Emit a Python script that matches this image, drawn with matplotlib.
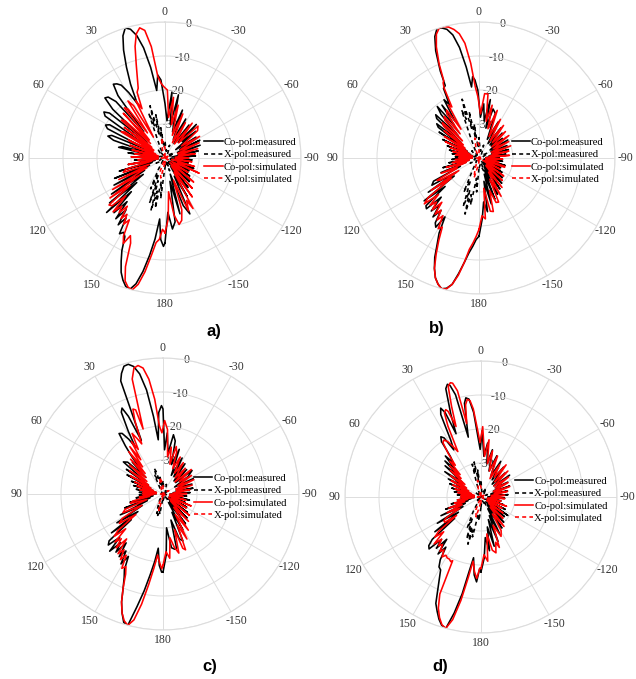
import matplotlib
matplotlib.use('Agg')
import matplotlib.pyplot as plt
import numpy as np

plt.rcParams['font.family'] = ['Liberation Serif', 'DejaVu Serif']

# angles in degrees (positive = counter-clockwise from top), gain in dB
theta_labels = ['0', '30', '60', '90', '120', '150', '180', '-150', '-120', '-90', '-60', '-30']
r_ticks = [-30, -20, -10, 0]
legend_labels = ['Co-pol:measured', 'X-pol:measured', 'Co-pol:simulated', 'X-pol:simulated']
panel_tags = ['a)', 'b)', 'c)', 'd)']

# ---------------- panel a ----------------
ang_co_meas_a = [-180, -177, -174, -171, -168, -165, -162, -159, -156, -153, -150, -146, -142, -138, -134, -130,
                 -126, -122, -118, -114, -110, -106, -102, -98, -94, -90, -86, -82, -78, -74, -70, -66, -63, -60,
                 -56, -52, -49, -46, -43, -40, -36, -32, -28, -24, -20, -16, -12, -9, -6, -3, 0, 3, 5, 7, 9, 11,
                 13, 15, 17, 19, 21, 23, 25, 27, 29, 31, 33, 35, 37, 39, 41, 43, 45, 47, 49, 51, 53, 55, 57, 59,
                 61, 63, 65, 67, 69, 71, 73, 75, 77, 79, 82, 85, 88, 91, 94, 97, 100, 103, 106, 109, 112, 115,
                 118, 121, 124, 127, 129, 131, 133, 135, 137, 139, 141, 143, 145, 147, 149, 151, 153, 155, 157,
                 159, 161, 163, 165, 167, 169, 171, 173, 175, 177, 179, 180]
db_co_meas_a = [-15, -24, -19, -21, -33, -23, -35, -25, -22, -34, -27, -37, -29, -38, -30, -37,
                -31, -38, -32, -38, -31, -37, -33, -38, -32, -37, -31, -38, -30, -36, -29, -36, -28.5, -35,
                -29, -36, -28, -33, -26.5, -34, -28, -35, -27, -34, -25, -32, -21, -30, -20.5, -29, -24, -17, -15.5, -20, -13, -7,
                -3, -0.8, 0, -2, -6, -11, -16, -22, -18, -15, -14, -13.5, -17, -30, -18, -15.5, -15, -19, -33, -19, -17.5, -18.5, -33, -21,
                -20, -21, -35, -23, -22, -24, -36, -27, -26, -36, -29, -37, -31, -38, -31, -38, -29, -37, -26, -36, -24, -35,
                -23, -33, -21, -32, -19, -29, -16.5, -26, -18, -23, -17, -21, -16, -19, -14, -15, -14, -10, -7,
                -4, -2, -0.5, 0, -2, -6, -11, -16, -22, -16, -14, -15]

ang_co_sim_a = [-180, -177, -174, -171, -168, -165, -162, -159, -156, -153, -151, -148, -145, -142, -138, -134, -130,
                -126, -122, -118, -114, -110, -106, -102, -98, -94, -90, -86, -82, -78, -74, -70, -66, -62, -58,
                -54, -50, -46, -42, -38, -34, -30, -26, -22, -18, -14, -11, -8, -5, -2, 1, 3, 5, 7, 9, 11, 13, 15,
                17, 19, 21, 23, 25, 27, 29, 31, 33, 35, 37, 39, 41, 43, 45, 47, 49, 51, 53, 55, 57, 59, 61, 64, 67,
                70, 73, 76, 79, 82, 85, 88, 91, 94, 97, 100, 103, 106, 109, 112, 115, 118, 121, 124, 126, 128, 130,
                132, 134, 136, 138, 140, 142, 144, 146, 148, 150, 152, 154, 156, 158, 160, 162, 164, 166, 168, 170,
                172, 174, 176, 178, 180]
db_co_sim_a = [-18, -22, -30, -23, -20, -21, -24, -33, -23, -26, -23, -35, -26, -37, -28, -38, -29,
               -37, -32, -38, -29, -36, -31, -38, -32, -37, -33, -37, -31, -36, -30, -36, -29, -35, -28,
               -34, -27.5, -26.5, -34, -27, -35, -28, -35, -26, -33, -24, -30, -22, -28, -20, -19, -18, -16, -7, -2, -1, -2.5, -6,
               -11, -15, -18, -19, -24, -21, -33, -22, -20, -31, -22, -21, -33, -22, -34, -24, -23, -35, -25, -36, -26, -25, -36, -28, -37,
               -29, -38, -30, -37, -31, -38, -30, -37, -32, -38, -29, -36, -28, -27, -35, -25, -34, -22, -31, -20, -27, -18.5,
               -19, -24, -18, -21, -19, -22, -18, -20, -17, -19, -14, -12, -15, -13, -6, -2, -0.5, 0, -2, -6,
               -11, -15, -16, -19, -18]

ang_x_meas_a = [-180, -170, -160, -150, -140, -120, -100, -80, -60, -40, -20, -10, 0, 5, 8, 10, 12, 14, 16, 18, 20,
                22, 25, 30, 40, 60, 80, 100, 120, 140, 150, 155, 158, 161, 163, 165, 167, 169, 171, 174, 177, 180]
db_x_meas_a = [-37, -39, -36, -39, -37, -39, -38, -39, -37, -39, -36, -38, -35, -37, -31, -36, -27, -33, -24, -30, -26,
               -34, -37, -39, -37, -39, -38, -39, -37, -39, -36, -30, -35, -26, -33, -24, -30, -25, -33, -28, -36, -37]

ang_x_sim_a = [-180, -150, -120, -90, -60, -30, 0, 10, 20, 45, 90, 135, 160, 168, 175, 180]
db_x_sim_a = [-38, -40, -39, -40, -39, -40, -37, -34, -38, -40, -39, -40, -36, -34, -38, -38]

# ---------------- panel b ----------------
ang_co_meas_b = [-180, -177, -174, -171, -168, -165, -162, -159, -156, -153, -150, -146, -142, -138, -134, -130,
                 -126, -122, -118, -114, -110, -106, -102, -98, -94, -90, -86, -82, -78, -74, -70, -66, -62, -58,
                 -54, -50, -46, -43, -40, -36, -32, -28, -24, -20, -16, -13, -11, -8, -5, -2, 1, 3, 4.5, 6, 8, 10,
                 12, 14, 16, 18, 20, 22, 24, 25, 27, 29, 31, 33, 35, 37, 39, 41, 43, 45, 47, 49, 51, 53, 55, 57,
                 60, 63, 66, 69, 72, 75, 78, 81, 84, 87, 90, 93, 96, 99, 102, 105, 108, 111, 114, 117, 120, 122,
                 124, 126, 128, 130, 132, 134, 136, 138, 140, 142, 144, 146, 148, 150, 152, 154, 156, 158, 160,
                 162, 164, 166, 168, 170, 172, 174, 176, 178, 180]
db_co_meas_b = [-17, -22, -27, -24, -33, -26, -35, -27, -36, -28, -37, -29, -38, -30, -37, -31,
                -38, -32, -38, -33, -38, -32, -37, -33, -38, -34, -38, -32, -37, -31, -36, -31, -36, -30,
                -36, -31, -35, -30, -35, -29, -35, -28, -34, -26, -25, -31, -22.5, -29, -24, -28, -20, -17, -16, -19, -13, -7,
                -3, -1, -0.2, 0, -2, -6, -12, -16.5, -17, -22, -20, -27, -21, -28, -20.5, -23, -31, -22, -23, -33, -24, -25, -34, -26,
                -36, -28, -37, -30, -38, -31, -37, -32, -38, -33, -38, -32, -37, -31, -37, -29, -36, -28, -34, -25, -24, -32,
                -22, -31, -19.5, -27, -19, -18.5, -24, -19, -22, -18, -21, -17, -16, -20, -15, -12, -8, -5, -2.5,
                -1, 0, -0.5, -2, -5.5, -9, -12, -14, -16, -17]

ang_co_sim_b = [-180, -177, -174, -171, -168, -165, -162, -159, -156, -153, -150, -146, -142, -138, -134, -130,
                -126, -122, -118, -114, -110, -108, -105, -101, -97, -93, -89, -85, -81, -77, -73, -69, -65, -61,
                -57, -53, -49, -45, -41, -37, -33, -29, -25, -21, -17, -14, -11, -8, -5, -2, 1, 3, 5, 7, 9, 11, 13,
                15, 17, 19, 21, 23, 24.5, 25.5, 26.5, 28, 30, 32, 34, 36, 38, 40, 42, 44, 46, 48, 50, 52, 55, 58,
                61, 64, 67, 70, 73, 76, 79, 82, 85, 88, 91, 94, 97, 100, 103, 106, 109, 112, 115, 118, 120, 122,
                124, 126, 128, 130, 132, 134, 136, 138, 140, 142, 144, 146, 148, 150, 152, 154, 156, 158, 160,
                162, 164, 166, 168, 170, 172, 174, 176, 178, 180]
db_co_sim_b = [-19, -23, -22, -31, -24, -23.7, -30, -26, -25.8, -33, -27, -35, -29, -37, -30.5, -37,
               -31, -38, -33, -38, -32, -32, -38, -34, -38, -33, -38, -31, -37, -31, -36, -30, -36, -30,
               -35, -29, -35, -29, -34, -28, -34, -27, -33, -25, -31, -24, -29, -21, -21, -27, -22, -19, -12, -6, -3, -1.5, -0.5,
               0, 0, -1.5, -5, -10, -15, -15.5, -17, -23, -22, -30, -23, -24, -31, -24, -25, -33, -25, -26, -34, -27, -35, -28,
               -36, -29, -37, -31, -38, -32, -38, -33, -38, -34, -38, -33, -37, -32, -37, -30, -36, -28, -33, -26, -27, -33,
               -23, -30, -21, -19, -24, -20, -22, -19.5, -23, -19, -21, -18, -20, -16, -17, -13, -9, -5, -2.5,
               -1, 0, -0.3, -2, -5, -9, -13, -15, -17, -19]

ang_x_meas_b = [-180, -170, -160, -150, -135, -120, -100, -80, -60, -40, -20, -10, 0, 5, 8, 10, 12, 14, 16, 18, 20,
                22, 25, 30, 45, 60, 80, 100, 120, 140, 152, 156, 159, 162, 164, 166, 168, 170, 173, 176, 180]
db_x_meas_b = [-37, -38, -36, -39, -37, -39, -38, -39, -37, -39, -36, -38, -34, -37, -30, -34, -26, -31, -22, -28, -25,
               -33, -37, -39, -37, -39, -38, -39, -37, -39, -36, -29, -33, -25, -30, -23, -29, -26, -34, -30, -37]

ang_x_sim_b = [-180, -150, -120, -90, -60, -30, 0, 12, 22, 45, 90, 135, 158, 166, 175, 180]
db_x_sim_b = [-39, -40, -38, -40, -39, -40, -36, -34, -38, -40, -39, -40, -37, -34, -38, -39]

# ---------------- panel c ----------------
ang_co_meas_c = [-180, -177, -174, -171, -168, -166, -163, -160, -157, -154, -151, -147, -143, -139, -135, -131,
                 -127, -123, -119, -115, -111, -107, -103, -99, -95, -91, -87, -83, -79, -75, -71, -67, -63, -59,
                 -55, -51, -48, -44, -40, -36, -32, -28, -24, -20, -16, -13, -10, -7, -4, -2, 0, 1, 3, 5, 7, 9, 11,
                 13, 15, 17, 19, 20.5, 22, 24, 25.5, 27, 29, 30.5, 32, 34, 36, 38, 40, 42, 44, 46, 48, 51, 54, 56,
                 59, 62, 65, 68, 71, 74, 77, 80, 83, 86, 89, 92, 95, 98, 101, 104, 107, 110, 113, 116, 119, 122,
                 125, 127, 129, 131, 133, 135, 137, 139, 141, 143, 145, 147, 149, 151, 153, 155, 157, 159, 161,
                 163, 165, 167, 169, 171, 173, 175, 177, 179, 180]
db_co_meas_c = [-17, -22, -30, -24, -23.4, -23.5, -32, -26, -25, -34, -28, -37, -29, -37, -30, -38,
                -31, -38, -32, -38, -33, -38, -32, -37, -33, -38, -32, -37, -31, -36, -31, -35, -30, -36,
                -31, -29, -35, -30, -35, -29, -34, -28, -34, -26, -31, -24, -22.3, -28, -22, -27, -15, -14, -16, -24, -17, -9, -4,
                -1.5, -0.5, -0.7, -2.5, -4.5, -23, -15, -12, -13, -19, -24, -21, -18.5, -18, -22, -26, -30, -27, -33, -26, -25, -33, -27,
                -35, -28, -36, -30, -37, -31, -38, -32, -38, -33, -38, -33, -37, -32, -37, -30, -36, -28, -35, -26, -33, -24,
                -31, -21, -28, -19, -18, -22, -17, -21, -18, -22, -17.5, -20, -16, -19, -15, -13, -10, -6, -3,
                -0.5, 0, -6, -11, -16, -20, -24, -19, -17, -17]

ang_co_sim_c = [-180, -177, -174, -171, -168, -165, -162, -160, -158, -155, -152, -149, -145, -141, -137, -133,
                -129, -125, -121, -117, -113, -109, -105, -101, -97, -93, -89, -85, -81, -77, -73, -69, -65, -61,
                -57, -53, -49, -45, -41, -37, -33, -29, -25, -21, -18, -15.6, -13, -10, -7, -4, -1.3, 1, 3, 5, 7,
                9, 11, 13, 15, 17, 18, 19.5, 21, 23, 25, 27, 29, 31, 33, 35, 37, 39, 41, 43, 46, 49, 52, 55, 58,
                61, 64, 67, 70, 73, 76, 79, 82, 85, 88, 91, 94, 97, 100, 103, 106, 109, 112, 115, 118, 121, 124,
                127, 129, 131, 133, 135, 137, 139, 141, 143, 145, 147, 149, 151, 153, 155, 157, 159, 161, 163,
                165, 167, 169, 171, 173, 175, 177, 179, 180]
db_co_sim_c = [-19, -23, -21, -27, -24, -22, -29, -23, -22.3, -30, -25, -33, -27, -35, -29, -37,
               -30, -38, -32, -37, -31, -38, -33, -38, -34, -38, -33, -37, -32, -36, -31, -36, -30, -35,
               -30, -34, -29, -35, -30, -34, -29, -33, -28, -32, -27, -25.5, -31, -26, -29, -21, -18.4, -22, -20, -12, -6,
               -2.5, -1.5, -2, -5, -20, -14, -13.5, -17, -24, -22, -20, -25, -22, -28, -23, -30, -24, -32, -26, -33, -27, -34, -28, -35,
               -29, -36, -31, -37, -32, -38, -33, -38, -34, -38, -34, -37, -33, -36, -31, -30, -35, -28, -27, -33, -26, -24.5,
               -30, -23, -21, -25, -20, -22, -19, -23, -18, -20, -17, -19, -15, -16, -14, -10, -6, -3, -1,
               0, -2, -7, -13, -18, -22, -20, -18, -19]

ang_x_meas_c = [-180, -160, -140, -120, -100, -80, -60, -40, -20, -5, 0, 5, 10, 14, 17, 19, 21, 24, 27, 35, 60,
                90, 120, 150, 158, 162, 164, 166, 168, 171, 175, 180]
db_x_meas_c = [-38, -39, -38, -40, -39, -40, -38, -39, -37, -38, -36, -38, -35, -37, -33, -32, -35, -34, -38, -39, -40,
               -39, -40, -38, -36, -34, -36, -33.5, -35, -34, -38, -38]

ang_x_sim_c = [-180, -150, -120, -90, -60, -30, 0, 12, 22, 45, 90, 135, 158, 166, 175, 180]
db_x_sim_c = [-39, -40, -39, -40, -38, -40, -37, -35, -39, -40, -39, -40, -37, -35, -39, -39]

# ---------------- panel d ----------------
ang_co_meas_d = [-180, -177, -174, -171, -168, -165, -162, -159, -156, -153, -150, -146, -142, -138, -134, -130,
                 -127, -124.5, -121, -117, -113, -109, -105, -101, -97, -93, -89, -85, -81, -77, -73, -69, -65, -61,
                 -57, -52.6, -49, -45, -41, -37, -33, -29, -25, -21, -17, -13.6, -10, -7, -4, -1, 1, 3, 5, 7, 8.7,
                 10, 12, 14, 15.5, 16.6, 18, 20, 21.5, 23, 24.4, 26, 28, 30, 32, 33.7, 35.5, 37, 39, 41, 43, 45,
                 47, 49, 52, 55, 58, 61, 64, 67, 70, 73, 76, 79, 82, 85, 88, 91, 94, 97, 100, 103, 106, 109, 112,
                 115, 118, 121, 124, 127, 129, 131, 133, 135, 137, 139, 141, 143, 145, 147, 149, 151, 153, 155,
                 157, 159, 161, 163, 165, 167, 169, 171, 173, 175, 177, 179, 180]
db_co_meas_d = [-18, -22, -28, -24, -31, -25, -33, -26, -34, -28, -36, -29, -37, -30, -38, -31,
                -36, -30.4, -37, -32, -38, -33, -38, -34, -38, -33, -38, -32, -37, -32, -37, -31, -36, -31,
                -35, -29.4, -35, -30, -35, -29, -34, -28, -33, -27, -32, -25.7, -30, -24, -28, -20.5, -26, -22, -15, -11, -10.5,
                -12, -22, -9, -6, -5.4, -6.5, -14, -20, -13, -11.3, -13, -21, -24, -19.5, -18.7, -20, -25, -27, -24, -29, -25,
                -31, -26, -33, -27, -34, -29, -35, -30, -36, -31, -37, -32, -38, -33, -38, -34, -38, -33, -37, -31, -36, -29, -35,
                -27, -34, -25, -32, -23, -30, -21, -19, -18.4, -23, -20, -24, -19, -22, -18, -16, -15.5, -13, -10,
                -6, -4, -2, -0.5, 0, -5, -11, -18, -22, -17, -15, -19, -18]

ang_co_sim_d = [-180, -177, -174, -171, -168, -165, -162, -160, -157, -153, -149, -146, -142, -138, -134, -130,
                -126, -122, -118, -114, -110, -106, -102, -98, -94, -90, -86, -82, -78, -74, -70, -66, -62, -58,
                -54, -50, -46, -42, -38, -34, -30, -26, -22, -18, -14, -11, -8, -5, -1.4, 1, 3, 5, 6.5, 8, 9.5,
                11, 12.5, 14, 15, 16.5, 18, 19.5, 21, 22, 23.5, 25, 27, 29, 31, 33, 35, 37, 39, 41, 43, 45, 47,
                49, 52, 55, 58, 61, 64, 67, 70, 73, 76, 79, 82, 85, 88, 91, 94, 97, 100, 103, 106, 109, 112, 115,
                118, 121, 123, 125, 127, 129, 131, 133, 135, 137, 139, 141, 143, 145, 147, 149, 151, 153, 155,
                156, 157, 159, 161, 163, 165, 167, 169, 171, 173, 175, 177, 179, 180]
db_co_sim_d = [-19, -23, -21, -29, -24, -23, -26, -24.2, -31, -27, -28.5, -34, -29, -36, -31, -37,
               -32, -38, -33, -38, -32, -38, -34, -38, -33, -37, -33, -37, -32, -36, -31, -36, -31, -35,
               -30, -35, -29, -34, -28, -33, -29, -34, -27, -32, -26, -30, -23, -28, -19.3, -24, -20, -14, -11.5, -11, -12.5,
               -18, -8, -5.5, -5.2, -6, -12, -18, -13, -12.3, -13, -17, -25, -23, -21, -20, -20.5, -24, -28, -26, -31, -27, -32,
               -28, -34, -29, -35, -30, -36, -31, -37, -32, -38, -33, -38, -34, -37, -34, -38, -33, -36, -32, -35, -30, -34, -29,
               -33, -28, -27, -27, -31, -24, -22, -25, -20.5, -23, -21, -22, -20, -21, -19, -20, -19.5, -19.5, -19,
               -19.5, -9, -5, -2.5, -0.7, 0, -3, -9, -16, -21, -18, -16, -19, -19]

ang_x_meas_d = [-180, -165, -150, -130, -110, -90, -70, -50, -30, -15, 0, 4, 7, 9, 11, 13, 15, 17, 20, 30, 50, 70,
                90, 110, 130, 145, 152, 156, 158, 161, 163, 164.5, 166, 168, 171, 175, 180]
db_x_meas_d = [-37, -39, -37, -39, -38, -40, -38, -39, -37, -39, -35, -37, -32, -35, -29.5, -33, -30, -35, -38, -39, -38, -40,
               -39, -40, -38, -39, -35, -30, -33, -27, -31, -25.6, -30, -28, -35, -33, -37]

ang_x_sim_d = [-180, -150, -120, -90, -60, -30, 0, 12, 22, 45, 90, 135, 158, 166, 175, 180]
db_x_sim_d = [-38, -40, -39, -40, -39, -40, -37, -35, -38, -40, -39, -40, -36, -34, -38, -38]

panels = [
    [(ang_co_meas_a, db_co_meas_a), (ang_x_meas_a, db_x_meas_a), (ang_co_sim_a, db_co_sim_a), (ang_x_sim_a, db_x_sim_a)],
    [(ang_co_meas_b, db_co_meas_b), (ang_x_meas_b, db_x_meas_b), (ang_co_sim_b, db_co_sim_b), (ang_x_sim_b, db_x_sim_b)],
    [(ang_co_meas_c, db_co_meas_c), (ang_x_meas_c, db_x_meas_c), (ang_co_sim_c, db_co_sim_c), (ang_x_sim_c, db_x_sim_c)],
    [(ang_co_meas_d, db_co_meas_d), (ang_x_meas_d, db_x_meas_d), (ang_co_sim_d, db_co_sim_d), (ang_x_sim_d, db_x_sim_d)],
]

styles = [('black', '-'), ('black', (0, (2.5, 2))), ('red', '-'), ('red', (0, (2.5, 2)))]

W, H = 636, 679
# (center x, center y, radius) in pixels, legend left in axes fraction, tag position in pixels
layout = [((165, 158, 136), 0.645, (214, 331)),
          ((479, 158, 136), 0.62, (437, 328)),
          ((163, 494, 136), 0.615, (210, 666)),
          ((481, 497, 136), 0.625, (440, 666))]

fig = plt.figure(figsize=(W / 100, H / 100), dpi=100)

grid_color = '#dddddd'
label_color = '#333333'

for curves, (geom, leg_x, tag_pos), tag in zip(panels, layout, panel_tags):
    cx, cy, r = geom
    ax = fig.add_axes([(cx - r) / W, 1 - (cy + r) / H, 2 * r / W, 2 * r / H], projection='polar')
    for (ang, db), (col, ls), lab in zip(curves, styles, legend_labels):
        ax.plot(np.deg2rad(ang), db, color=col, linestyle=ls, lw=1.15, label=lab)
    ax.set_theta_zero_location('N')
    ax.set_theta_direction(1)
    ax.set_ylim(-40, 0)
    ax.set_yticks(r_ticks)
    ax.set_yticklabels([])
    # radial labels sit on the rings, slightly right of the 0 deg line, under the curves
    for rv in r_ticks:
        ax.text(np.deg2rad(-10), rv, str(rv), fontsize=8.5, color=label_color,
                ha='center', va='center', zorder=1)
    ax.set_thetagrids(np.arange(0, 360, 30), theta_labels)
    ax.tick_params(axis='x', labelsize=8.5, labelcolor=label_color, pad=-3)
    ax.grid(True, color=grid_color, lw=0.7)
    ax.spines['polar'].set_color(grid_color)
    ax.spines['polar'].set_linewidth(0.8)
    ax.legend(loc='center left', bbox_to_anchor=(leg_x, 0.49), frameon=False, fontsize=7.7,
              handlelength=1.7, handletextpad=0.1, labelspacing=0.25, borderpad=0, borderaxespad=0)
    fig.text(tag_pos[0] / W, 1 - tag_pos[1] / H, tag, fontsize=12, fontweight='bold',
             family='Liberation Sans', ha='center', va='center')

fig.savefig('out.png', dpi=100)
